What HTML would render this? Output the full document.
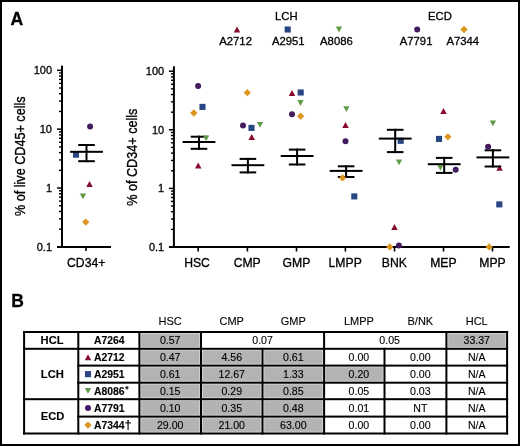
<!DOCTYPE html>
<html><head><meta charset="utf-8"><style>
html,body{margin:0;padding:0;background:#fff;}
body{width:520px;height:446px;overflow:hidden;}
svg{display:block;will-change:transform;}
text{font-family:"Liberation Sans", sans-serif;fill:#000;stroke:#000;stroke-width:0.3px;}
.tb text{stroke-width:0.12px;}
</style></head><body>
<svg width="520" height="446" viewBox="0 0 520 446">

<rect x="1" y="1" width="518" height="444" fill="none" stroke="#000" stroke-width="2"/>
<text x="10.4" y="24.9" font-size="17.6" text-anchor="start" font-weight="bold" >A</text>
<text x="11.2" y="306.8" font-size="17.5" text-anchor="start" font-weight="bold" >B</text>
<text x="286.3" y="19.9" font-size="11.3" text-anchor="middle" font-weight="normal" >LCH</text>
<text x="439.9" y="19.7" font-size="11.3" text-anchor="middle" font-weight="normal" >ECD</text>
<text x="235.6" y="45.4" font-size="11.3" text-anchor="middle" font-weight="normal" >A2712</text>
<polygon points="233.75,32.50 240.25,32.50 237.00,26.50" fill="#880a2c"/>
<text x="288.3" y="45.4" font-size="11.3" text-anchor="middle" font-weight="normal" >A2951</text>
<rect x="284.65" y="26.45" width="6.1" height="6.1" fill="#284682"/>
<text x="336.4" y="45.4" font-size="11.3" text-anchor="middle" font-weight="normal" >A8086</text>
<polygon points="335.85,26.60 342.15,26.60 339.00,32.40" fill="#5f9b45"/>
<text x="416.1" y="45.4" font-size="11.3" text-anchor="middle" font-weight="normal" >A7791</text>
<circle cx="417.20" cy="29.50" r="3.0" fill="#431b5f"/>
<text x="462.8" y="45.4" font-size="11.3" text-anchor="middle" font-weight="normal" >A7344</text>
<polygon points="464.00,25.85 467.65,29.50 464.00,33.15 460.35,29.50" fill="#dc951e"/>
<rect x="61.00" y="65.6" width="2" height="182.4" fill="#000"/><rect x="57.00" y="69.55" width="5" height="1.5" fill="#000"/><text x="52" y="74.10" font-size="11" text-anchor="end" font-weight="normal" >100</text><rect x="59.00" y="110.75" width="3" height="1.4" fill="#000"/><rect x="59.00" y="100.38" width="3" height="1.4" fill="#000"/><rect x="59.00" y="93.03" width="3" height="1.4" fill="#000"/><rect x="59.00" y="87.32" width="3" height="1.4" fill="#000"/><rect x="59.00" y="82.66" width="3" height="1.4" fill="#000"/><rect x="59.00" y="78.72" width="3" height="1.4" fill="#000"/><rect x="59.00" y="75.31" width="3" height="1.4" fill="#000"/><rect x="59.00" y="72.29" width="3" height="1.4" fill="#000"/><rect x="57.00" y="128.42" width="5" height="1.5" fill="#000"/><text x="52" y="132.97" font-size="11" text-anchor="end" font-weight="normal" >10</text><rect x="59.00" y="169.62" width="3" height="1.4" fill="#000"/><rect x="59.00" y="159.25" width="3" height="1.4" fill="#000"/><rect x="59.00" y="151.90" width="3" height="1.4" fill="#000"/><rect x="59.00" y="146.19" width="3" height="1.4" fill="#000"/><rect x="59.00" y="141.53" width="3" height="1.4" fill="#000"/><rect x="59.00" y="137.59" width="3" height="1.4" fill="#000"/><rect x="59.00" y="134.18" width="3" height="1.4" fill="#000"/><rect x="59.00" y="131.16" width="3" height="1.4" fill="#000"/><rect x="57.00" y="187.29" width="5" height="1.5" fill="#000"/><text x="52" y="191.84" font-size="11" text-anchor="end" font-weight="normal" >1</text><rect x="59.00" y="228.49" width="3" height="1.4" fill="#000"/><rect x="59.00" y="218.12" width="3" height="1.4" fill="#000"/><rect x="59.00" y="210.77" width="3" height="1.4" fill="#000"/><rect x="59.00" y="205.06" width="3" height="1.4" fill="#000"/><rect x="59.00" y="200.40" width="3" height="1.4" fill="#000"/><rect x="59.00" y="196.46" width="3" height="1.4" fill="#000"/><rect x="59.00" y="193.05" width="3" height="1.4" fill="#000"/><rect x="59.00" y="190.03" width="3" height="1.4" fill="#000"/><rect x="57.00" y="246.16" width="5" height="1.5" fill="#000"/><text x="52" y="250.71" font-size="11" text-anchor="end" font-weight="normal" >0.1</text>
<rect x="57" y="246" width="54" height="2" fill="#000"/>
<rect x="85.2" y="246" width="1.6" height="5" fill="#000"/>
<text x="86.2" y="266.9" font-size="12.2" text-anchor="middle" font-weight="normal" >CD34+</text>
<text transform="translate(24.8,156.2) rotate(-90) scale(1.01,1.17)" x="0" y="0" font-size="12.5" text-anchor="middle">% of live CD45+ cells</text>
<rect x="172.90" y="66.3" width="2" height="181.7" fill="#000"/><rect x="168.90" y="70.45" width="5" height="1.5" fill="#000"/><text x="164.2" y="75.00" font-size="11" text-anchor="end" font-weight="normal" >100</text><rect x="170.90" y="111.46" width="3" height="1.4" fill="#000"/><rect x="170.90" y="101.14" width="3" height="1.4" fill="#000"/><rect x="170.90" y="93.82" width="3" height="1.4" fill="#000"/><rect x="170.90" y="88.14" width="3" height="1.4" fill="#000"/><rect x="170.90" y="83.50" width="3" height="1.4" fill="#000"/><rect x="170.90" y="79.58" width="3" height="1.4" fill="#000"/><rect x="170.90" y="76.18" width="3" height="1.4" fill="#000"/><rect x="170.90" y="73.18" width="3" height="1.4" fill="#000"/><rect x="168.90" y="129.05" width="5" height="1.5" fill="#000"/><text x="164.2" y="133.60" font-size="11" text-anchor="end" font-weight="normal" >10</text><rect x="170.90" y="170.06" width="3" height="1.4" fill="#000"/><rect x="170.90" y="159.74" width="3" height="1.4" fill="#000"/><rect x="170.90" y="152.42" width="3" height="1.4" fill="#000"/><rect x="170.90" y="146.74" width="3" height="1.4" fill="#000"/><rect x="170.90" y="142.10" width="3" height="1.4" fill="#000"/><rect x="170.90" y="138.18" width="3" height="1.4" fill="#000"/><rect x="170.90" y="134.78" width="3" height="1.4" fill="#000"/><rect x="170.90" y="131.78" width="3" height="1.4" fill="#000"/><rect x="168.90" y="187.65" width="5" height="1.5" fill="#000"/><text x="164.2" y="192.20" font-size="11" text-anchor="end" font-weight="normal" >1</text><rect x="170.90" y="228.66" width="3" height="1.4" fill="#000"/><rect x="170.90" y="218.34" width="3" height="1.4" fill="#000"/><rect x="170.90" y="211.02" width="3" height="1.4" fill="#000"/><rect x="170.90" y="205.34" width="3" height="1.4" fill="#000"/><rect x="170.90" y="200.70" width="3" height="1.4" fill="#000"/><rect x="170.90" y="196.78" width="3" height="1.4" fill="#000"/><rect x="170.90" y="193.38" width="3" height="1.4" fill="#000"/><rect x="170.90" y="190.38" width="3" height="1.4" fill="#000"/><rect x="168.90" y="246.25" width="5" height="1.5" fill="#000"/><text x="164.2" y="250.80" font-size="11" text-anchor="end" font-weight="normal" >0.1</text>
<rect x="169.2" y="246" width="340.5" height="2" fill="#000"/>
<rect x="197.40" y="246" width="1.6" height="5.5" fill="#000"/>
<text x="197" y="267.1" font-size="12.2" text-anchor="middle" font-weight="normal" >HSC</text>
<rect x="246.60" y="246" width="1.6" height="5.5" fill="#000"/>
<text x="247.2" y="267.1" font-size="12.2" text-anchor="middle" font-weight="normal" >CMP</text>
<rect x="295.70" y="246" width="1.6" height="5.5" fill="#000"/>
<text x="296.5" y="267.1" font-size="12.2" text-anchor="middle" font-weight="normal" >GMP</text>
<rect x="344.60" y="246" width="1.6" height="5.5" fill="#000"/>
<text x="345.2" y="267.1" font-size="12.2" text-anchor="middle" font-weight="normal" >LMPP</text>
<rect x="393.70" y="246" width="1.6" height="5.5" fill="#000"/>
<text x="394.3" y="267.1" font-size="12.2" text-anchor="middle" font-weight="normal" >BNK</text>
<rect x="442.70" y="246" width="1.6" height="5.5" fill="#000"/>
<text x="443.4" y="267.1" font-size="12.2" text-anchor="middle" font-weight="normal" >MEP</text>
<rect x="491.70" y="246" width="1.6" height="5.5" fill="#000"/>
<text x="492.5" y="267.1" font-size="12.2" text-anchor="middle" font-weight="normal" >MPP</text>
<text transform="translate(136.9,157.2) rotate(-90) scale(1.01,1.17)" x="0" y="0" font-size="12.5" text-anchor="middle">% of CD34+ cells</text>
<rect x="72.95" y="151.65" width="6.1" height="6.1" fill="#284682"/>
<polygon points="86.25,187.00 92.75,187.00 89.50,181.00" fill="#880a2c"/>
<rect x="199.45" y="103.85" width="6.1" height="6.1" fill="#284682"/>
<polygon points="194.95,168.40 201.45,168.40 198.20,162.40" fill="#880a2c"/>
<rect x="248.45" y="124.85" width="6.1" height="6.1" fill="#284682"/>
<polygon points="248.45,140.10 254.95,140.10 251.70,134.10" fill="#880a2c"/>
<polygon points="288.75,95.90 295.25,95.90 292.00,89.90" fill="#880a2c"/>
<rect x="297.65" y="89.45" width="6.1" height="6.1" fill="#284682"/>
<polygon points="342.25,127.90 348.75,127.90 345.50,121.90" fill="#880a2c"/>
<rect x="351.25" y="193.35" width="6.1" height="6.1" fill="#284682"/>
<rect x="397.65" y="137.75" width="6.1" height="6.1" fill="#284682"/>
<polygon points="391.25,230.00 397.75,230.00 394.50,224.00" fill="#880a2c"/>
<polygon points="440.25,114.00 446.75,114.00 443.50,108.00" fill="#880a2c"/>
<rect x="435.95" y="135.85" width="6.1" height="6.1" fill="#284682"/>
<polygon points="496.25,170.70 502.75,170.70 499.50,164.70" fill="#880a2c"/>
<rect x="496.25" y="201.35" width="6.1" height="6.1" fill="#284682"/>
<rect x="70.10" y="150.80" width="32.8" height="2" fill="#000"/>
<rect x="78.20" y="144.00" width="16.6" height="2" fill="#000"/>
<rect x="78.20" y="160.20" width="16.6" height="2" fill="#000"/>
<rect x="85.50" y="144.00" width="2" height="18.20" fill="#000"/>
<rect x="182.60" y="141.00" width="32.8" height="2" fill="#000"/>
<rect x="190.70" y="135.70" width="16.6" height="2" fill="#000"/>
<rect x="190.70" y="147.80" width="16.6" height="2" fill="#000"/>
<rect x="198.00" y="135.70" width="2" height="14.10" fill="#000"/>
<rect x="231.50" y="164.20" width="32.8" height="2" fill="#000"/>
<rect x="239.60" y="157.90" width="16.6" height="2" fill="#000"/>
<rect x="239.60" y="171.40" width="16.6" height="2" fill="#000"/>
<rect x="246.90" y="157.90" width="2" height="15.50" fill="#000"/>
<rect x="280.70" y="155.00" width="32.8" height="2" fill="#000"/>
<rect x="288.80" y="148.60" width="16.6" height="2" fill="#000"/>
<rect x="288.80" y="163.50" width="16.6" height="2" fill="#000"/>
<rect x="296.10" y="148.60" width="2" height="16.90" fill="#000"/>
<rect x="329.70" y="169.90" width="32.8" height="2" fill="#000"/>
<rect x="337.80" y="165.30" width="16.6" height="2" fill="#000"/>
<rect x="337.80" y="176.00" width="16.6" height="2" fill="#000"/>
<rect x="345.10" y="165.30" width="2" height="12.70" fill="#000"/>
<rect x="378.80" y="137.60" width="32.8" height="2" fill="#000"/>
<rect x="386.90" y="128.80" width="16.6" height="2" fill="#000"/>
<rect x="386.90" y="151.10" width="16.6" height="2" fill="#000"/>
<rect x="394.20" y="128.80" width="2" height="24.30" fill="#000"/>
<rect x="427.80" y="163.20" width="32.8" height="2" fill="#000"/>
<rect x="435.90" y="156.90" width="16.6" height="2" fill="#000"/>
<rect x="435.90" y="171.90" width="16.6" height="2" fill="#000"/>
<rect x="443.20" y="156.90" width="2" height="17.00" fill="#000"/>
<rect x="476.50" y="156.40" width="32.8" height="2" fill="#000"/>
<rect x="484.60" y="149.30" width="16.6" height="2" fill="#000"/>
<rect x="484.60" y="165.50" width="16.6" height="2" fill="#000"/>
<rect x="491.90" y="149.30" width="2" height="18.20" fill="#000"/>
<circle cx="90.10" cy="126.50" r="3.0" fill="#431b5f"/>
<polygon points="79.85,193.50 86.15,193.50 83.00,199.30" fill="#5f9b45"/>
<polygon points="85.70,218.45 89.35,222.10 85.70,225.75 82.05,222.10" fill="#dc951e"/>
<circle cx="198.10" cy="86.10" r="3.0" fill="#431b5f"/>
<polygon points="193.80,109.35 197.45,113.00 193.80,116.65 190.15,113.00" fill="#dc951e"/>
<polygon points="202.95,135.50 209.25,135.50 206.10,141.30" fill="#5f9b45"/>
<polygon points="247.30,89.05 250.95,92.70 247.30,96.35 243.65,92.70" fill="#dc951e"/>
<circle cx="243.00" cy="125.50" r="3.0" fill="#431b5f"/>
<polygon points="256.85,121.90 263.15,121.90 260.00,127.70" fill="#5f9b45"/>
<polygon points="297.35,100.10 303.65,100.10 300.50,105.90" fill="#5f9b45"/>
<circle cx="292.00" cy="114.20" r="3.0" fill="#431b5f"/>
<polygon points="300.60,112.55 304.25,116.20 300.60,119.85 296.95,116.20" fill="#dc951e"/>
<polygon points="343.25,106.30 349.55,106.30 346.40,112.10" fill="#5f9b45"/>
<circle cx="345.50" cy="141.30" r="3.0" fill="#431b5f"/>
<polygon points="342.50,174.25 346.15,177.90 342.50,181.55 338.85,177.90" fill="#dc951e"/>
<polygon points="395.85,159.40 402.15,159.40 399.00,165.20" fill="#5f9b45"/>
<polygon points="389.80,243.25 393.45,246.90 389.80,250.55 386.15,246.90" fill="#dc951e"/>
<circle cx="398.90" cy="245.50" r="3.0" fill="#431b5f"/>
<polygon points="447.90,133.15 451.55,136.80 447.90,140.45 444.25,136.80" fill="#dc951e"/>
<polygon points="437.25,165.00 443.55,165.00 440.40,170.80" fill="#5f9b45"/>
<circle cx="455.70" cy="169.70" r="3.0" fill="#431b5f"/>
<polygon points="489.75,120.50 496.05,120.50 492.90,126.30" fill="#5f9b45"/>
<circle cx="488.10" cy="146.80" r="3.0" fill="#431b5f"/>
<polygon points="489.20,243.25 492.85,246.90 489.20,250.55 485.55,246.90" fill="#dc951e"/>
<g class="tb">
<rect x="140.40" y="333.00" width="59.60" height="14.80" fill="#d2d2d2"/><rect x="141.30" y="333.90" width="57.80" height="13.00" fill="#b3b3b3"/>
<rect x="447.40" y="333.00" width="58.70" height="14.80" fill="#d2d2d2"/><rect x="448.30" y="333.90" width="56.90" height="13.00" fill="#b3b3b3"/>
<rect x="140.40" y="349.80" width="59.60" height="14.80" fill="#d2d2d2"/><rect x="141.30" y="350.70" width="57.80" height="13.00" fill="#b3b3b3"/>
<rect x="202.00" y="349.80" width="59.50" height="14.80" fill="#d2d2d2"/><rect x="202.90" y="350.70" width="57.70" height="13.00" fill="#b3b3b3"/>
<rect x="263.50" y="349.80" width="59.60" height="14.80" fill="#d2d2d2"/><rect x="264.40" y="350.70" width="57.80" height="13.00" fill="#b3b3b3"/>
<rect x="140.40" y="366.60" width="59.60" height="15.10" fill="#d2d2d2"/><rect x="141.30" y="367.50" width="57.80" height="13.30" fill="#b3b3b3"/>
<rect x="202.00" y="366.60" width="59.50" height="15.10" fill="#d2d2d2"/><rect x="202.90" y="367.50" width="57.70" height="13.30" fill="#b3b3b3"/>
<rect x="263.50" y="366.60" width="59.60" height="15.10" fill="#d2d2d2"/><rect x="264.40" y="367.50" width="57.80" height="13.30" fill="#b3b3b3"/>
<rect x="325.10" y="366.60" width="58.40" height="15.10" fill="#d2d2d2"/><rect x="326.00" y="367.50" width="56.60" height="13.30" fill="#b3b3b3"/>
<rect x="140.40" y="383.70" width="59.60" height="14.50" fill="#d2d2d2"/><rect x="141.30" y="384.60" width="57.80" height="12.70" fill="#b3b3b3"/>
<rect x="202.00" y="383.70" width="59.50" height="14.50" fill="#d2d2d2"/><rect x="202.90" y="384.60" width="57.70" height="12.70" fill="#b3b3b3"/>
<rect x="263.50" y="383.70" width="59.60" height="14.50" fill="#d2d2d2"/><rect x="264.40" y="384.60" width="57.80" height="12.70" fill="#b3b3b3"/>
<rect x="140.40" y="400.20" width="59.60" height="15.40" fill="#d2d2d2"/><rect x="141.30" y="401.10" width="57.80" height="13.60" fill="#b3b3b3"/>
<rect x="202.00" y="400.20" width="59.50" height="15.40" fill="#d2d2d2"/><rect x="202.90" y="401.10" width="57.70" height="13.60" fill="#b3b3b3"/>
<rect x="263.50" y="400.20" width="59.60" height="15.40" fill="#d2d2d2"/><rect x="264.40" y="401.10" width="57.80" height="13.60" fill="#b3b3b3"/>
<rect x="140.40" y="417.60" width="59.60" height="14.90" fill="#d2d2d2"/><rect x="141.30" y="418.50" width="57.80" height="13.10" fill="#b3b3b3"/>
<rect x="202.00" y="417.60" width="59.50" height="14.90" fill="#d2d2d2"/><rect x="202.90" y="418.50" width="57.70" height="13.10" fill="#b3b3b3"/>
<rect x="263.50" y="417.60" width="59.60" height="14.90" fill="#d2d2d2"/><rect x="264.40" y="418.50" width="57.80" height="13.10" fill="#b3b3b3"/>
<rect x="23.10" y="331.00" width="485.00" height="2" fill="#000"/>
<rect x="23.10" y="347.80" width="485.00" height="2" fill="#000"/>
<rect x="23.10" y="398.20" width="485.00" height="2" fill="#000"/>
<rect x="23.10" y="432.50" width="485.00" height="2" fill="#000"/>
<rect x="77.30" y="364.60" width="430.80" height="2" fill="#000"/>
<rect x="77.30" y="381.70" width="430.80" height="2" fill="#000"/>
<rect x="77.30" y="415.60" width="430.80" height="2" fill="#000"/>
<rect x="23.10" y="331.00" width="2" height="103.50" fill="#000"/>
<rect x="77.30" y="331.00" width="2" height="103.50" fill="#000"/>
<rect x="138.40" y="331.00" width="2" height="103.50" fill="#000"/>
<rect x="200.00" y="331.00" width="2" height="103.50" fill="#000"/>
<rect x="261.50" y="347.80" width="2" height="86.70" fill="#000"/>
<rect x="323.10" y="331.00" width="2" height="103.50" fill="#000"/>
<rect x="383.50" y="347.80" width="2" height="86.70" fill="#000"/>
<rect x="445.40" y="331.00" width="2" height="103.50" fill="#000"/>
<rect x="506.10" y="331.00" width="2" height="103.50" fill="#000"/>
<text x="170.20" y="324.8" font-size="11" text-anchor="middle" font-weight="normal" >HSC</text>
<text x="231.75" y="324.8" font-size="11" text-anchor="middle" font-weight="normal" >CMP</text>
<text x="293.30" y="324.8" font-size="11" text-anchor="middle" font-weight="normal" >GMP</text>
<text x="358.90" y="324.8" font-size="11" text-anchor="middle" font-weight="normal" >LMPP</text>
<text x="420.35" y="324.8" font-size="11" text-anchor="middle" font-weight="normal" >B/NK</text>
<text x="476.75" y="324.8" font-size="11" text-anchor="middle" font-weight="normal" >HCL</text>
<text x="52.1" y="344.30" font-size="11.2" text-anchor="middle" font-weight="bold" >HCL</text>
<text x="52.3" y="377.90" font-size="11.2" text-anchor="middle" font-weight="bold" >LCH</text>
<text x="52.5" y="420.25" font-size="11.2" text-anchor="middle" font-weight="bold" >ECD</text>
<text x="94" y="344.10" font-size="10.4" text-anchor="start" font-weight="bold" >A7264</text>
<text x="94" y="360.90" font-size="10.4" text-anchor="start" font-weight="bold" >A2712</text>
<polygon points="84.75,360.20 91.25,360.20 88.00,354.20" fill="#880a2c"/>
<text x="94" y="377.85" font-size="10.4" text-anchor="start" font-weight="bold" >A2951</text>
<rect x="84.95" y="371.10" width="6.1" height="6.1" fill="#284682"/>
<text x="94" y="394.65" font-size="10.4" text-anchor="start" font-weight="bold" >A8086<tspan font-size="8.5" dy="-2.5" dx="0.6">*</tspan></text>
<polygon points="84.85,388.05 91.15,388.05 88.00,393.85" fill="#5f9b45"/>
<text x="94" y="411.60" font-size="10.4" text-anchor="start" font-weight="bold" >A7791</text>
<circle cx="88.00" cy="407.90" r="3.0" fill="#431b5f"/>
<text x="94" y="428.75" font-size="10.4" text-anchor="start" font-weight="bold" >A7344<tspan font-size="12">†</tspan></text>
<polygon points="88.00,421.40 91.65,425.05 88.00,428.70 84.35,425.05" fill="#dc951e"/>
<text x="170.20" y="344.10" font-size="10.6" text-anchor="middle" font-weight="normal" >0.57</text>
<text x="476.75" y="344.10" font-size="10.6" text-anchor="middle" font-weight="normal" >33.37</text>
<text x="170.20" y="360.90" font-size="10.6" text-anchor="middle" font-weight="normal" >0.47</text>
<text x="231.75" y="360.90" font-size="10.6" text-anchor="middle" font-weight="normal" >4.56</text>
<text x="293.30" y="360.90" font-size="10.6" text-anchor="middle" font-weight="normal" >0.61</text>
<text x="358.90" y="360.90" font-size="10.6" text-anchor="middle" font-weight="normal" >0.00</text>
<text x="420.35" y="360.90" font-size="10.6" text-anchor="middle" font-weight="normal" >0.00</text>
<text x="476.75" y="360.90" font-size="10.6" text-anchor="middle" font-weight="normal" >N/A</text>
<text x="170.20" y="377.85" font-size="10.6" text-anchor="middle" font-weight="normal" >0.61</text>
<text x="231.75" y="377.85" font-size="10.6" text-anchor="middle" font-weight="normal" >12.67</text>
<text x="293.30" y="377.85" font-size="10.6" text-anchor="middle" font-weight="normal" >1.33</text>
<text x="358.90" y="377.85" font-size="10.6" text-anchor="middle" font-weight="normal" >0.20</text>
<text x="420.35" y="377.85" font-size="10.6" text-anchor="middle" font-weight="normal" >0.00</text>
<text x="476.75" y="377.85" font-size="10.6" text-anchor="middle" font-weight="normal" >N/A</text>
<text x="170.20" y="394.65" font-size="10.6" text-anchor="middle" font-weight="normal" >0.15</text>
<text x="231.75" y="394.65" font-size="10.6" text-anchor="middle" font-weight="normal" >0.29</text>
<text x="293.30" y="394.65" font-size="10.6" text-anchor="middle" font-weight="normal" >0.85</text>
<text x="358.90" y="394.65" font-size="10.6" text-anchor="middle" font-weight="normal" >0.05</text>
<text x="420.35" y="394.65" font-size="10.6" text-anchor="middle" font-weight="normal" >0.03</text>
<text x="476.75" y="394.65" font-size="10.6" text-anchor="middle" font-weight="normal" >N/A</text>
<text x="170.20" y="411.60" font-size="10.6" text-anchor="middle" font-weight="normal" >0.10</text>
<text x="231.75" y="411.60" font-size="10.6" text-anchor="middle" font-weight="normal" >0.35</text>
<text x="293.30" y="411.60" font-size="10.6" text-anchor="middle" font-weight="normal" >0.48</text>
<text x="358.90" y="411.60" font-size="10.6" text-anchor="middle" font-weight="normal" >0.01</text>
<text x="420.35" y="411.60" font-size="10.6" text-anchor="middle" font-weight="normal" >NT</text>
<text x="476.75" y="411.60" font-size="10.6" text-anchor="middle" font-weight="normal" >N/A</text>
<text x="170.20" y="428.75" font-size="10.6" text-anchor="middle" font-weight="normal" >29.00</text>
<text x="231.75" y="428.75" font-size="10.6" text-anchor="middle" font-weight="normal" >21.00</text>
<text x="293.30" y="428.75" font-size="10.6" text-anchor="middle" font-weight="normal" >63.00</text>
<text x="358.90" y="428.75" font-size="10.6" text-anchor="middle" font-weight="normal" >0.00</text>
<text x="420.35" y="428.75" font-size="10.6" text-anchor="middle" font-weight="normal" >0.00</text>
<text x="476.75" y="428.75" font-size="10.6" text-anchor="middle" font-weight="normal" >N/A</text>
<text x="262.55" y="344.10" font-size="10.6" text-anchor="middle" font-weight="normal" >0.07</text>
<text x="389.65" y="344.10" font-size="10.6" text-anchor="middle" font-weight="normal" >0.05</text>
</g>
</svg></body></html>
